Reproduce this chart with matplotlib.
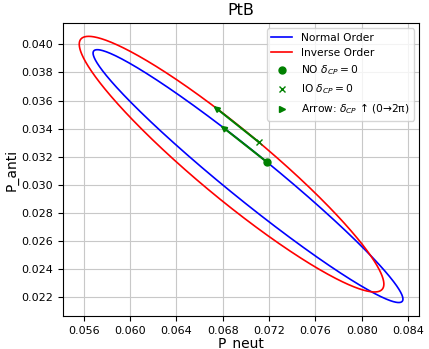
import numpy as np
import matplotlib
matplotlib.use("Agg")
import matplotlib.pyplot as plt

# ── Data: P(δ) = c + a·cos δ + b·sin δ for each mass ordering ────────────────
orderings = ["Normal Order", "Inverse Order"]
colors = ["blue", "red"]
x_center = [0.07018, 0.06876]
x_cos = [0.00162, 0.00235]
x_sin = [-0.01328, -0.01294]
y_center = [0.03062, 0.03147]
y_cos = [0.00101, 0.00157]
y_sin = [0.00894, 0.00896]
arrow_delta = 0.3          # δCP reached by the direction arrow
marker_labels = [r"NO $\delta_{CP}=0$", r"IO $\delta_{CP}=0$"]
markers = ["o", "x"]

delta = np.linspace(0, 2 * np.pi, 721)

def point(i, d):
    x = x_center[i] + x_cos[i] * np.cos(d) + x_sin[i] * np.sin(d)
    y = y_center[i] + y_cos[i] * np.cos(d) + y_sin[i] * np.sin(d)
    return x, y

# ── Figure ────────────────────────────────────────────────────────────────────
fig = plt.figure(figsize=(4.29, 3.49), dpi=100)
ax = fig.add_axes([0.147, 0.095, 0.830, 0.839])

for i, name in enumerate(orderings):
    x, y = point(i, delta)
    ax.plot(x, y, color=colors[i], lw=1.2, label=name)

for i, lbl in enumerate(marker_labels):
    x0, y0 = point(i, 0.0)
    x1, y1 = point(i, arrow_delta)
    ax.annotate("", xy=(x1, y1), xytext=(x0, y0),
                arrowprops=dict(arrowstyle="-|>", color="green", lw=1.5,
                                mutation_scale=8, shrinkA=0, shrinkB=0))
    ax.plot(x0, y0, markers[i], color="green", markersize=5,
            mew=1.0, linestyle="none", label=lbl)

ax.plot([], [], ">", color="green", markersize=4, linestyle="none",
        label=r"Arrow: $\delta_{CP}$ ↑ (0→2π)")

ax.set_xticks(np.arange(0.056, 0.0841, 0.004))
ax.set_yticks(np.arange(0.022, 0.0401, 0.002))
ax.xaxis.set_major_formatter(matplotlib.ticker.FormatStrFormatter("%.3f"))
ax.yaxis.set_major_formatter(matplotlib.ticker.FormatStrFormatter("%.3f"))
ax.tick_params(labelsize=8)
ax.grid(True, color="#c8c8c8", lw=0.8)

ax.set_title("PtB", fontsize=11.5)
ax.set_xlabel("P_neut", fontsize=10, labelpad=1)
ax.set_ylabel("P_anti", fontsize=10, labelpad=2)
ax.legend(loc="upper right", fontsize=7.7)

fig.savefig("out.png", dpi=100)
